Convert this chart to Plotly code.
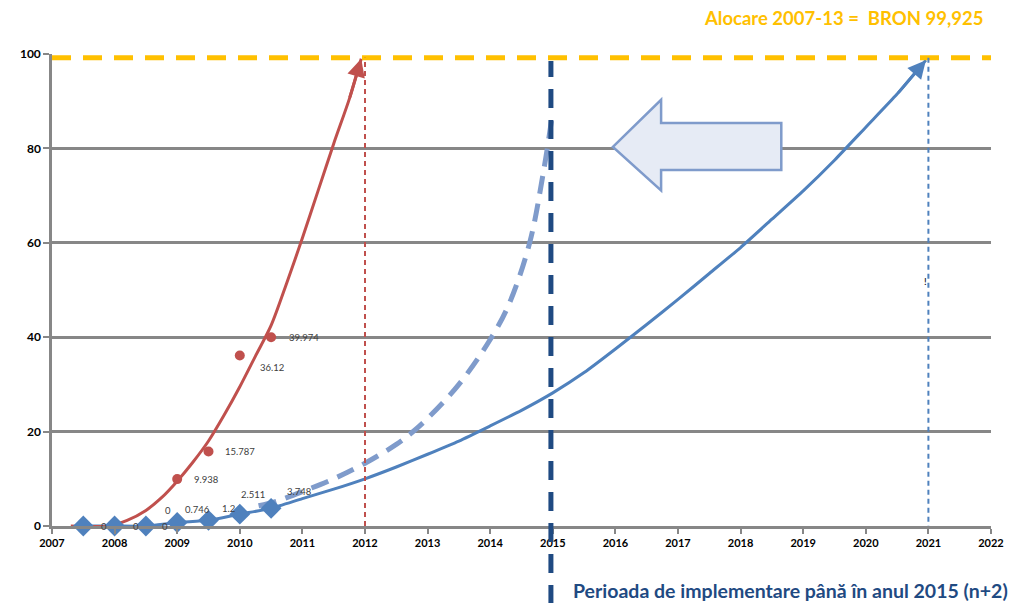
import plotly.graph_objects as go

# ---------------- data ----------------
years_ticks = list(range(2007, 2023))
y_ticks = [0, 20, 40, 60, 80, 100]

# actual payments (red points)
red_x = [2009.0, 2009.5, 2010.0, 2010.5]
red_y = [9.938, 15.787, 36.12, 39.974]
red_labels = ["9.938", "15.787", "36.12", "39.974"]

# red trend curve
red_curve_x = [2007.3, 2007.9, 2008.2, 2008.5, 2008.75, 2009.0, 2009.25, 2009.5, 2009.75,
               2010.0, 2010.25, 2010.5, 2010.75, 2011.0, 2011.25, 2011.5, 2011.75, 2011.94]
red_curve_y = [0, 0, 1.2, 3.3, 6.0, 9.5, 13.5, 18.0, 23.5,
               29.5, 36.0, 42.5, 51.5, 61.0, 71.0, 81.0, 90.5, 99.0]

# blue diamonds
blue_x = [2007.5, 2008.0, 2008.5, 2009.0, 2009.5, 2010.0, 2010.5]
blue_y = [0, 0, 0, 0.746, 1.2, 2.511, 3.748]
blue_label_x = [2007.5, 2008.0, 2008.5, 2008.5, 2009.0, 2009.5, 2010.0, 2010.5]
blue_label_y = [0, 0, 0, 0, 0.746, 1.2, 2.511, 3.748]
blue_labels = ["0", "0", "0", "0", "0.746", "1.2", "2.511", "3.748"]

# blue trend curve (continuation)
blue_curve_x = [2011.0, 2011.5, 2012.0, 2012.5, 2013.0, 2013.5, 2014.0, 2014.5, 2015.0,
                2015.5, 2016.0, 2016.5, 2017.0, 2017.5, 2018.0, 2018.5, 2019.0, 2019.5,
                2020.0, 2020.5, 2020.96]
blue_curve_y = [5.8, 7.8, 10.0, 12.5, 15.2, 18.0, 21.2, 24.5, 28.2,
                32.5, 37.5, 42.7, 48.0, 53.5, 59.0, 65.0, 71.0, 77.5,
                84.5, 91.5, 98.7]

# accelerated scenario (light dashed)
fast_x = [2010.3, 2010.6, 2011.0, 2011.5, 2012.0, 2012.5, 2012.75, 2013.0, 2013.5,
          2014.0, 2014.3, 2014.63, 2014.85, 2014.98]
fast_y = [4.3, 5.3, 7.3, 10.0, 13.3, 17.3, 19.8, 22.8, 30.0,
          39.5, 47.0, 60.0, 75.0, 86.0]

allocation_level = 99.2
deadline_year = 2015
red_end_year = 2012
blue_end_year = 2021

RED = "#C0504D"
BLUE = "#4F81BD"
LIGHT = "#7F9BCB"
NAVY = "#1F4A82"
YELLOW = "#FFC000"
GRID = "#878787"
FONT = "Lato"

fig = go.Figure()

# light dashed scenario
fig.add_trace(go.Scatter(x=fast_x, y=fast_y, mode="lines", line=dict(color=LIGHT, width=5, dash="18px,10px", shape="spline"),
                         hoverinfo="skip"))
# blue curve
fig.add_trace(go.Scatter(x=blue_x + blue_curve_x, y=blue_y + blue_curve_y, mode="lines",
                         line=dict(color=BLUE, width=3, shape="spline", smoothing=0.6), hoverinfo="skip"))
# red curve
fig.add_trace(go.Scatter(x=red_curve_x, y=red_curve_y, mode="lines",
                         line=dict(color=RED, width=3, shape="spline", smoothing=0.8), hoverinfo="skip"))
# blue diamonds
fig.add_trace(go.Scatter(x=blue_x, y=blue_y, mode="markers", cliponaxis=False,
                         marker=dict(symbol="diamond", size=16, color=BLUE), hoverinfo="skip"))
# red points
fig.add_trace(go.Scatter(x=red_x, y=red_y, mode="markers", cliponaxis=False,
                         marker=dict(symbol="circle", size=10, color=RED), hoverinfo="skip"))

ann = []
# red labels
red_shift = [(15, 0), (14, 0), (18, -12), (16, 0)]
for xv, yv, t, (dx, dy) in zip(red_x, red_y, red_labels, red_shift):
    ann.append(dict(x=xv, y=yv, text=t, showarrow=False, xanchor="left", yanchor="middle",
                    xshift=dx, yshift=dy, font=dict(family=FONT, size=9.5, color="#404040")))
# blue labels
blue_shift = [(21, 0), (21, 0), (19, 0), (22, 16), (20, 13), (20, 12), (13, 20), (28, 17)]
for xv, yv, t, (dx, dy) in zip(blue_label_x, blue_label_y, blue_labels, blue_shift):
    ann.append(dict(x=xv, y=yv, text=t, showarrow=False, xanchor="center", yanchor="middle",
                    xshift=dx, yshift=dy, font=dict(family=FONT, size=9.5, color="#404040")))

# arrowheads at curve ends
ann.append(dict(x=red_curve_x[-1], y=red_curve_y[-1], ax=red_curve_x[-2], ay=red_curve_y[-2],
                axref="x", ayref="y", xref="x", yref="y", showarrow=True, arrowhead=2,
                arrowsize=1.2, arrowwidth=3, arrowcolor=RED, text=""))
ann.append(dict(x=blue_curve_x[-1], y=blue_curve_y[-1], ax=blue_curve_x[-2], ay=blue_curve_y[-2],
                axref="x", ayref="y", xref="x", yref="y", showarrow=True, arrowhead=2,
                arrowsize=1.2, arrowwidth=3, arrowcolor=BLUE, text=""))

# titles
ann.append(dict(xref="paper", yref="paper", x=0.9936, y=1.076, xanchor="right", yanchor="middle",
                text="Alocare 2007-13 =  BRON 99,925", showarrow=False,
                font=dict(family=FONT, size=18.5, color=YELLOW, weight="bold")))
ann.append(dict(xref="paper", yref="paper", x=0.553, y=-0.1356, xanchor="left", yanchor="middle",
                text="Perioada de implementare până în anul 2015 (n+2)", showarrow=False,
                font=dict(family=FONT, size=19.5, color=NAVY, weight="bold")))
ann.append(dict(x=2020.95, y=52, text="!", showarrow=False,
                font=dict(family=FONT, size=10, color="#000000")))

shapes = [
    # yellow allocation line
    dict(type="line", xref="paper", yref="y", x0=0, x1=1, y0=allocation_level, y1=allocation_level,
         line=dict(color=YELLOW, width=5, dash="19px,12px"), layer="above"),
    # red dotted vertical
    dict(type="line", xref="x", yref="y", x0=red_end_year, x1=red_end_year, y0=0, y1=allocation_level,
         line=dict(color=RED, width=2, dash="5px,4px")),
    # blue dotted vertical
    dict(type="line", xref="x", yref="y", x0=blue_end_year, x1=blue_end_year, y0=-1, y1=allocation_level,
         line=dict(color=BLUE, width=2, dash="5px,4px")),
    # navy deadline line
    dict(type="line", xref="x", yref="paper", x0=deadline_year - 0.03, x1=deadline_year - 0.03, y0=-0.165, y1=0.985,
         line=dict(color=NAVY, width=5, dash="19px,12px"), layer="above"),
    # big left arrow
    dict(type="path", xref="x", yref="y",
         path="M 2015.96 80.3 L 2016.73 90.3 L 2016.73 85.4 L 2018.65 85.4 L 2018.65 75.4 "
              "L 2016.73 75.4 L 2016.73 71.1 Z",
         fillcolor="#E6EBF5", line=dict(color="#7F9BCB", width=2.5), layer="above"),
]

fig.update_layout(
    width=1023, height=603,
    margin=dict(l=52, r=32, t=54, b=77),
    paper_bgcolor="white", plot_bgcolor="white",
    showlegend=False,
    annotations=ann, shapes=shapes,
    xaxis=dict(range=[2007, 2022], tickvals=years_ticks, ticktext=[str(v) for v in years_ticks],
               showgrid=False, zeroline=False, showline=True, linecolor=GRID, linewidth=2.5,
               ticks="outside", ticklen=5, tickwidth=2, tickcolor=GRID,
               tickfont=dict(family=FONT, size=11, color="#000000", weight="bold")),
    yaxis=dict(range=[0, 100], tickvals=y_ticks, showgrid=True, gridcolor=GRID, gridwidth=2.5,
               zeroline=False, showline=True, linecolor=GRID, linewidth=2.5,
               ticks="outside", ticklen=6, tickwidth=2, tickcolor=GRID,
               tickfont=dict(family=FONT, size=12, color="#000000", weight="bold")),
)

fig.write_html("out.html")
